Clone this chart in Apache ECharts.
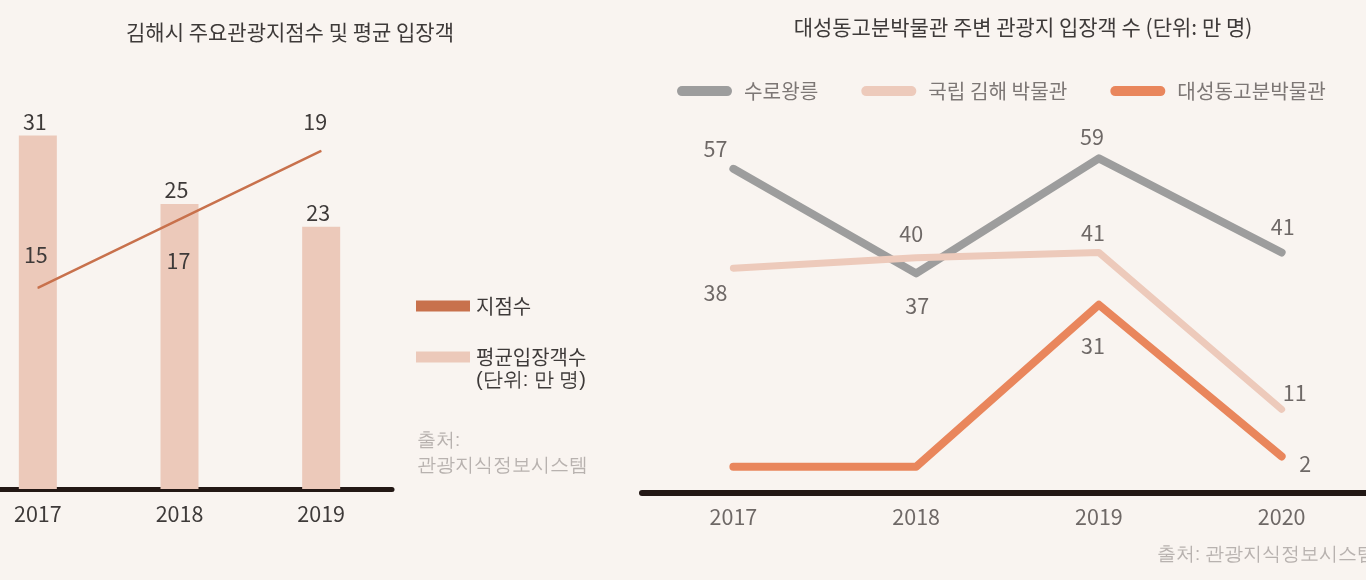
<!DOCTYPE html>
<html>
<head>
<meta charset="utf-8">
<script src="https://cdn.jsdelivr.net/npm/echarts@6/dist/echarts.min.js"></script>
<style>
  html, body { margin: 0; padding: 0; background: #f9f4f0; }
  #main { width: 1366px; height: 580px; }
</style>
</head>
<body>
<div id="main"></div>
<script>
    // 왼쪽: 김해시 주요관광지점수 및 평균 입장객
    var leftYears = ['2017', '2018', '2019'];
    var siteCount = [15, 17, 19];          // 지점수
    var avgVisitors = [31, 25, 23];        // 평균입장객수 (만 명)

    // 오른쪽: 대성동고분박물관 주변 관광지 입장객 수
    var rightYears = ['2017', '2018', '2019', '2020'];
    var suroTomb = [57, 37, 59, 41];       // 수로왕릉
    var gimhaeMuseum = [38, 40, 41, 11];   // 국립 김해 박물관
    var daesungMuseum = [0, 0, 31, 2];     // 대성동고분박물관

    var FONT = '"Noto Sans CJK KR", "Noto Sans", sans-serif';
    var darkText = '#3e3a39';
    var grayText = '#6e6866';
    var numSize = 21.5;

    // 라벨 위치 (원본 배치 따라감)
    function withLabels(values, specs) {
        return values.map(function(v, i) {
            var s = specs[i];
            if (!s) return { value: v, label: { show: false } };
            return {
                value: v,
                label: {
                    show: true,
                    position: s[0],
                    distance: s[1],
                    offset: [s[2] || 0, s[3] || 0]
                }
            };
        });
    }

    var myChart = echarts.init(document.getElementById('main'));
    var pill = 'path://M5,0 L50,0 A5,5 0 0 1 50,10 L5,10 A5,5 0 0 1 5,0 Z';

    var option = {
        backgroundColor: '#f9f4f0',
        textStyle: { fontFamily: FONT },
        title: [
            {
                text: '김해시 주요관광지점수 및 평균 입장객',
                left: 285, top: 17, textAlign: 'center',
                textStyle: { fontSize: 21, fontWeight: 'normal', color: darkText, fontFamily: FONT }
            },
            {
                text: '대성동고분박물관 주변 관광지 입장객 수 (단위: 만 명)',
                left: 1018, top: 12, textAlign: 'center',
                textStyle: { fontSize: 21, fontWeight: 'normal', color: darkText, fontFamily: FONT }
            }
        ],
        legend: [
            {
                data: ['지점수', '평균입장객수'],
                orient: 'vertical',
                left: 416, top: 296, padding: 0,
                icon: 'rect',
                itemWidth: 54, itemHeight: 11,
                itemGap: 31,
                textStyle: { fontSize: 20, color: darkText, fontFamily: FONT, padding: [0, 0, 0, 1] },
                itemStyle: { borderWidth: 0 }
            },
            {
                data: ['수로왕릉', '국립 김해 박물관', '대성동고분박물관'],
                left: 677, top: 81, padding: 0,
                icon: pill,
                itemWidth: 55, itemHeight: 11,
                itemGap: 43,
                textStyle: { fontSize: 20.2, color: '#7d7775', fontFamily: FONT, padding: [0, 0, 0, 7] },
                itemStyle: { borderWidth: 0 }
            }
        ],
        grid: [
            { left: -33, width: 425, top: 90, bottom: 91, outerBoundsMode: 'none' },
            { left: 642, width: 731, top: 127, bottom: 87, outerBoundsMode: 'none' }
        ],
        xAxis: [
            {
                gridIndex: 0, type: 'category', data: leftYears,
                offset: 3,
                axisLine: { lineStyle: { color: '#231815', width: 5 } },
                axisTick: { show: false },
                axisLabel: { fontSize: numSize, color: darkText, margin: 11, fontFamily: FONT }
            },
            {
                gridIndex: 1, type: 'category', data: rightYears,
                axisLine: { onZero: false, lineStyle: { color: '#231815', width: 6 } },
                axisTick: { show: false },
                axisLabel: { fontSize: numSize, color: grayText, margin: 13, fontFamily: FONT }
            }
        ],
        yAxis: [
            { gridIndex: 0, type: 'value', min: 0, max: 35, show: false },
            { gridIndex: 0, type: 'value', min: 9.13, max: 20.78, show: false },
            { gridIndex: 1, type: 'value', min: -5, max: 65, show: false }
        ],
        series: [
            {
                name: '평균입장객수', type: 'bar',
                xAxisIndex: 0, yAxisIndex: 0,
                data: avgVisitors,
                barWidth: 38,
                itemStyle: { color: '#ecc9ba' },
                label: { show: true, position: 'top', distance: 3, offset: [-3, 0], fontSize: numSize, color: darkText, fontFamily: FONT }
            },
            {
                name: '지점수', type: 'line',
                xAxisIndex: 0, yAxisIndex: 1,
                data: withLabels(siteCount, [['top', 22, -2], ['bottom', 30, -1], ['top', 18, -6]]),
                symbol: 'circle', symbolSize: 1,
                itemStyle: { color: '#c8714c' },
                lineStyle: { color: '#c8714c', width: 2.5 },
                label: { fontSize: numSize, color: darkText, fontFamily: FONT },
                z: 3
            },
            {
                name: '수로왕릉', type: 'line',
                xAxisIndex: 1, yAxisIndex: 2,
                data: withLabels(suroTomb, [['top', 9, -18], ['bottom', 21, 1], ['top', 10, -7], ['top', 14, 1]]),
                symbol: 'circle', symbolSize: 1,
                itemStyle: { color: '#9d9d9d' },
                lineStyle: { color: '#9d9d9d', width: 8, cap: 'round', join: 'round' },
                label: { fontSize: numSize, color: grayText, fontFamily: FONT }
            },
            {
                name: '국립 김해 박물관', type: 'line',
                xAxisIndex: 1, yAxisIndex: 2,
                data: withLabels(gimhaeMuseum, [['bottom', 13, -18], ['top', 13, -5], ['top', 8, -6], ['top', 5, 13]]),
                symbol: 'circle', symbolSize: 1,
                itemStyle: { color: '#edcabb' },
                lineStyle: { color: '#edcabb', width: 7, cap: 'round', join: 'round' },
                label: { fontSize: numSize, color: grayText, fontFamily: FONT }
            },
            {
                name: '대성동고분박물관', type: 'line',
                xAxisIndex: 1, yAxisIndex: 2,
                data: withLabels(daesungMuseum, [null, null, ['bottom', 30, -6], ['right', 17, 0, 7]]),
                symbol: 'circle', symbolSize: 1,
                itemStyle: { color: '#e9865c' },
                lineStyle: { color: '#e9865c', width: 8, cap: 'round', join: 'round' },
                label: { fontSize: numSize, color: grayText, fontFamily: FONT }
            }
        ],
        graphic: [
            {
                type: 'text', left: 476, top: 370,
                style: { text: '(단위: 만 명)', fontSize: 20, fill: darkText, font: '20px ' + FONT }
            },
            {
                type: 'text', left: 417, top: 428,
                style: { text: '출처:\n관광지식정보시스템', fontSize: 18.5, lineHeight: 25, fill: '#b8b2af', font: '18.5px ' + FONT }
            },
            {
                type: 'text', left: 1157, top: 545,
                style: { text: '출처: 관광지식정보시스템', fontSize: 18.5, fill: '#b8b2af', font: '18.5px ' + FONT }
            }
        ]
    };
    myChart.setOption(option);
</script>
</body>
</html>
